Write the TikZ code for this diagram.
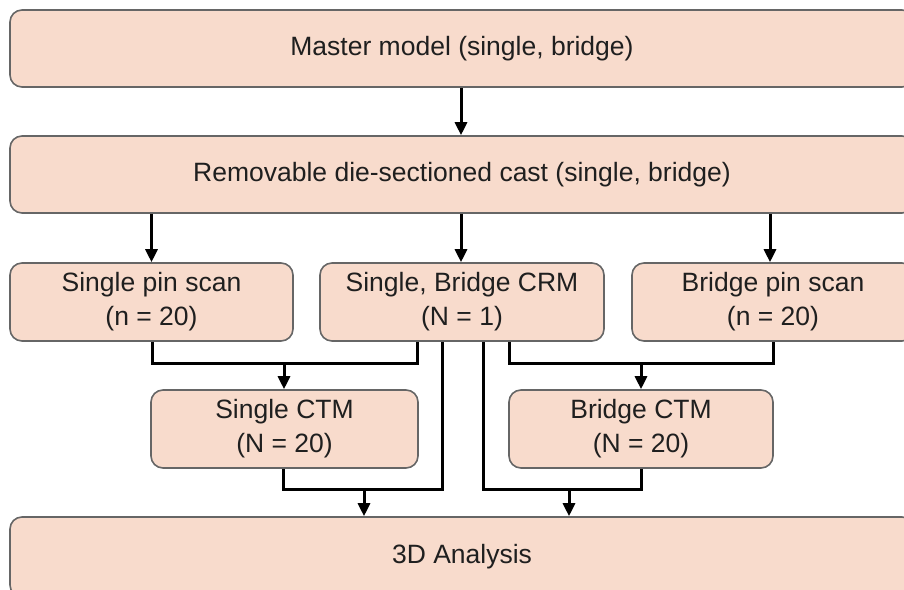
\documentclass[tikz,border=0pt]{standalone}
\usepackage{fontspec}
\setmainfont{Liberation Sans}
\usetikzlibrary{arrows.meta,calc}
\definecolor{boxfill}{HTML}{F8DBCC}
\definecolor{boxline}{HTML}{666666}
\tikzset{
  stagebox/.style={draw=boxline, line width=1.6pt, fill=boxfill, rounded corners=12pt,
    inner sep=0pt, align=center, font=\fontsize{26.5}{34}\selectfont, text=black!88},
  flow/.style={line width=3pt, black},
  flowarrow/.style={flow, -{Triangle[width=12pt,length=13pt]}},
}
\begin{document}
\begin{tikzpicture}[x=1pt,y=-1pt]
  \useasboundingbox (0,0) rectangle (904,589);
  \clip (0,0) rectangle (904,589);

  % process boxes
  \node[stagebox, minimum width=904pt, minimum height=77pt] (master) at (462,48.5) {Master model (single, bridge)};
  \node[stagebox, minimum width=904pt, minimum height=77pt] (cast) at (462,174.5) {Removable die-sectioned cast (single, bridge)};
  \node[stagebox, minimum width=283pt, minimum height=78pt] (spin) at (151.5,302) {Single pin scan\\(n = 20)};
  \node[stagebox, minimum width=284pt, minimum height=78pt] (crm) at (462,302) {Single, Bridge CRM\\(N = 1)};
  \node[stagebox, minimum width=282pt, minimum height=78pt] (bpin) at (773,302) {Bridge pin scan\\(n = 20)};
  \node[stagebox, minimum width=267pt, minimum height=78pt] (sctm) at (284.5,429) {Single CTM\\(N = 20)};
  \node[stagebox, minimum width=264pt, minimum height=78pt] (bctm) at (641,429) {Bridge CTM\\(N = 20)};
  \node[stagebox, minimum width=904pt, minimum height=80pt] (analysis) at (462,557) {3D Analysis};

  % junction points of the merging lines
  \coordinate (jsingle) at (284,363);
  \coordinate (jbridge) at (641,363);
  \coordinate (jleft) at (364,489);
  \coordinate (jright) at (569,489);

  % master model to cast, cast to the three scans
  \draw[flowarrow] (master.south -| 461,0) -- (cast.north -| 461,0);
  \draw[flowarrow] (cast.south -| spin.north) -- (spin.north);
  \draw[flowarrow] (cast.south -| 461,0) -- (crm.north -| 461,0);
  \draw[flowarrow] (cast.south -| 770,0) -- (bpin.north -| 770,0);

  % scans merge into the CTM boxes
  \draw[flow] (spin.south -| 152,0) |- (jsingle) -| (crm.south -| 417,0);
  \draw[flowarrow] (jsingle) -- (sctm.north -| jsingle);
  \draw[flow] (crm.south -| 509,0) |- (jbridge) -| (bpin.south -| 773,0);
  \draw[flowarrow] (jbridge) -- (bctm.north);

  % CTM and CRM merge into the analysis
  \draw[flow] (sctm.south -| 283,0) |- (jleft) -| (crm.south -| 442,0);
  \draw[flowarrow] (jleft) -- (analysis.north -| jleft);
  \draw[flow] (crm.south -| 483,0) |- (jright) -| (bctm.south);
  \draw[flowarrow] (jright) -- (analysis.north -| jright);
\end{tikzpicture}
\end{document}
